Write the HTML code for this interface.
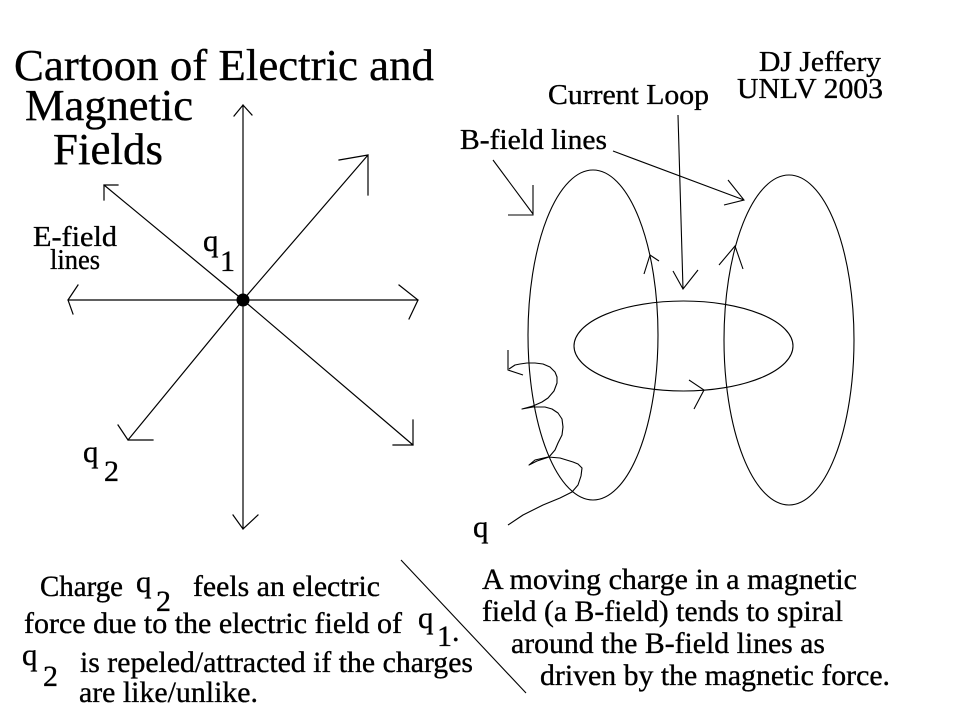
<!DOCTYPE html>
<html>
<head>
<meta charset="utf-8">
<style>
  html, body { margin: 0; padding: 0; background: #fff; }
  body { width: 954px; height: 721px; overflow: hidden; }
  svg { display: block; }
  text { font-family: "Liberation Serif", "Times New Roman", serif; fill: #000; stroke: #000; stroke-width: 0.35; }
</style>
</head>
<body>
<svg width="954" height="721" viewBox="0 0 954 721" xmlns="http://www.w3.org/2000/svg">
  <rect x="0" y="0" width="954" height="721" fill="#fff"/>

  <!-- Title -->
  <text x="14" y="80" font-size="44" textLength="420" lengthAdjust="spacingAndGlyphs">Cartoon of Electric and</text>
  <text x="25" y="120" font-size="44" textLength="168" lengthAdjust="spacingAndGlyphs">Magnetic</text>
  <text x="53" y="164" font-size="44" textLength="110" lengthAdjust="spacingAndGlyphs">Fields</text>

  <!-- Top-right labels -->
  <text x="759" y="71" font-size="28" textLength="122" lengthAdjust="spacingAndGlyphs">DJ Jeffery</text>
  <text x="737" y="98" font-size="28" textLength="146" lengthAdjust="spacingAndGlyphs">UNLV 2003</text>
  <text x="548" y="104" font-size="28" textLength="161" lengthAdjust="spacingAndGlyphs">Current Loop</text>
  <text x="460" y="149" font-size="28" textLength="147" lengthAdjust="spacingAndGlyphs">B-field lines</text>

  <!-- E-field labels -->
  <text x="33" y="246" font-size="28" textLength="84" lengthAdjust="spacingAndGlyphs">E-field</text>
  <text x="50" y="269" font-size="28" textLength="50" lengthAdjust="spacingAndGlyphs">lines</text>

  <!-- q1 and q2 labels in diagram -->
  <text x="203" y="251" font-size="31">q</text>
  <text x="220" y="271" font-size="30">1</text>
  <text x="83" y="462" font-size="31">q</text>
  <text x="104" y="481" font-size="30">2</text>

  <!-- E-field lines -->
  <g stroke="#000" stroke-width="1.2" fill="none" stroke-linecap="square">
    <path d="M243 300 L243 105 M234 116 L243 105 L252 115"/>
    <path d="M243 300 L243 529 M233 515 L243 529 L258 515"/>
    <path d="M243 300 L68 300 M78 285 L68 300 L73 314"/>
    <path d="M243 300 L418 300 M399 285 L418 300 L409 319"/>
    <path d="M243 300 L104 185 M118 185 L104 185 L104 200"/>
    <path d="M243 300 L368 155 M339 160 L368 155 L368 195"/>
    <path d="M243 300 L128 440 M118 425 L128 440 L153 440"/>
    <path d="M243 300 L413 445 M413 420 L413 445 L393 445"/>
  </g>
  <circle cx="243" cy="300" r="6.5" fill="#000"/>

  <!-- Magnetic part -->
  <g stroke="#000" stroke-width="1.1" fill="none">
    <ellipse cx="593" cy="335" rx="65" ry="165"/>
    <ellipse cx="789" cy="340" rx="65" ry="165"/>
    <ellipse cx="683.5" cy="346" rx="109.5" ry="45"/>

    <path d="M644 274 L650 255 L659 261"/>
    <path d="M719 265 L735 246 L743 269"/>
    <path d="M689 380 L704 390 L694 409"/>

    <path d="M678 115 L683 289 M673 271 L683 289 L698 270"/>

    <path d="M493 160 L533 214 M533 185 L533 215 L508 215"/>
    <path d="M613 151 L744 200 M728 180 L744 200 L724 205"/>

    <polyline stroke-linejoin="round" points="508,525 523,515 543,505 560,498 572,492 578,485 581,476 582,468 578,464 573,462 560,458 548,457 535,460 529,465 537,461 549,457 555,450 558,443 562,435 563,427 562,419 558,413 552,409 545,407 533,407 522,409 533,406 542,402 548,398 554,391 557,383 557,377 555,372 550,367 543,364 535,363 527,363 520,364 515,365 509,369"/>
    <path d="M508 350 L508 370 L523 375"/>

    <path d="M401 560 L526 693"/>
  </g>

  <text x="473" y="537" font-size="31">q</text>

  <!-- Bottom-left text -->
  <text x="40" y="596" font-size="30" textLength="83" lengthAdjust="spacingAndGlyphs">Charge</text>
  <text x="136" y="592" font-size="31">q</text>
  <text x="156" y="611" font-size="30">2</text>
  <text x="193" y="596" font-size="30" textLength="187" lengthAdjust="spacingAndGlyphs">feels an electric</text>

  <text x="24" y="633" font-size="30" textLength="378" lengthAdjust="spacingAndGlyphs">force due to the electric field of</text>
  <text x="418" y="628" font-size="31">q</text>
  <text x="437" y="646" font-size="30">1</text>
  <text x="452" y="641" font-size="30">.</text>

  <text x="22" y="665" font-size="31">q</text>
  <text x="43" y="686" font-size="30">2</text>
  <text x="80" y="672" font-size="30" textLength="393" lengthAdjust="spacingAndGlyphs">is repeled/attracted if the charges</text>
  <text x="79" y="702" font-size="30" textLength="179" lengthAdjust="spacingAndGlyphs">are like/unlike.</text>

  <!-- Bottom-right text -->
  <text x="482" y="589" font-size="30" textLength="375" lengthAdjust="spacingAndGlyphs">A moving charge in a magnetic</text>
  <text x="482" y="621" font-size="30" textLength="361" lengthAdjust="spacingAndGlyphs">field (a B-field) tends to spiral</text>
  <text x="511" y="653" font-size="30" textLength="314" lengthAdjust="spacingAndGlyphs">around the B-field lines as</text>
  <text x="540" y="685" font-size="30" textLength="350" lengthAdjust="spacingAndGlyphs">driven by the magnetic force.</text>
</svg>
</body>
</html>
